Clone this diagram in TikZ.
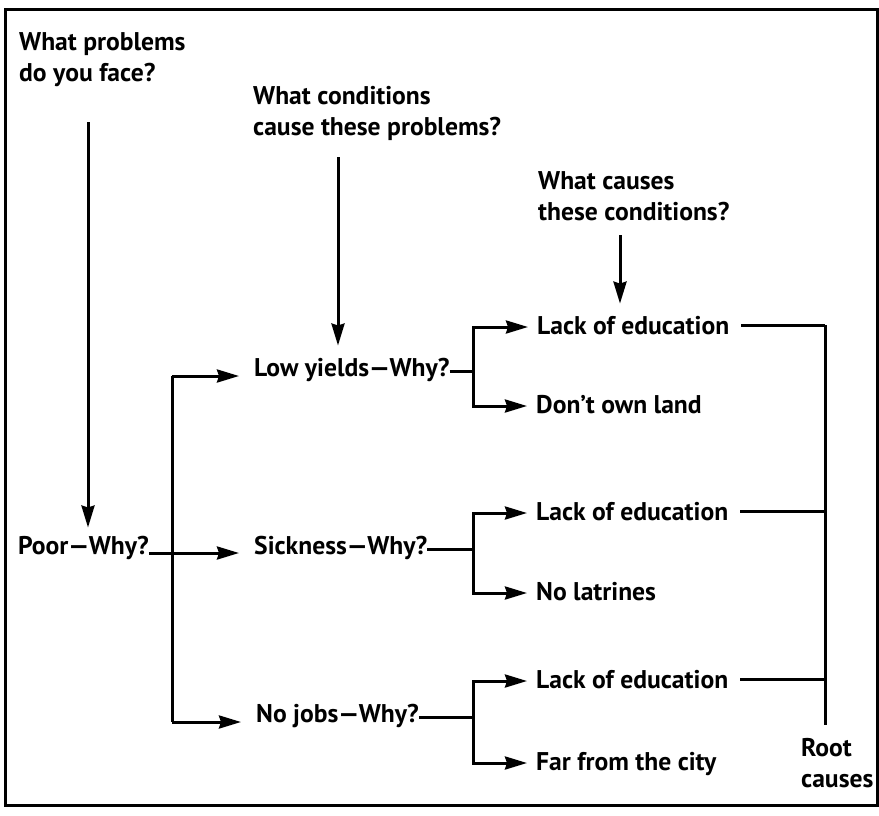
\documentclass[tikz,border=0pt]{standalone}
\usepackage{fontspec}
\setmainfont{PT Sans}
\usetikzlibrary{arrows.meta}

\tikzset{
  lbl/.style={anchor=base west, inner sep=0pt, font=\fontsize{25.6}{31}\selectfont\bfseries, align=left},
  link/.style={line width=3pt},
  arr/.style={line width=3pt, -{Stealth[length=22pt,width=13pt,inset=2pt]}},
}

\begin{document}
\begin{tikzpicture}[x=1pt, y=-1pt]
  \useasboundingbox (0,0) rectangle (879,815);
  % frame
  \draw[line width=3pt] (5,9) rectangle (877,805);

  % questions on top
  \node[lbl] (q1) at (19,81) {What problems\\do you face?};
  \node[lbl] (q2) at (253,135) {What conditions\\cause these problems?};
  \node[lbl] (q3) at (538,220) {What causes\\these conditions?};

  % problems
  \node[lbl] (poor) at (18,554) {Poor---Why?};
  \node[lbl] (low) at (254,376) {Low yields---Why?};
  \node[lbl] (sick) at (254,554) {Sickness---Why?};
  \node[lbl] (jobs) at (256,722) {No jobs---Why?};

  % conditions
  \node[lbl] (led1) at (537,334) {Lack of education};
  \node[lbl] (land) at (536,413) {Don't own land};
  \node[lbl] (led2) at (536,520) {Lack of education};
  \node[lbl] (latr) at (536,600) {No latrines};
  \node[lbl] (led3) at (536,688) {Lack of education};
  \node[lbl] (city) at (536,770) {Far from the city};
  \node[lbl] (root) at (801,787) {Root\\causes};

  % helper points
  \coordinate (c1) at (88,122);
  \coordinate (c2) at (338,157);
  \coordinate (c3) at (620,235);
  \coordinate (split) at (172,553);
  \coordinate (rtop) at (825,325);
  \coordinate (rbot) at (825,725);

  % downward arrows from the questions
  \draw[arr] (c1) -- ([yshift=8pt]c1 |- poor.north);
  \draw[arr] (c2) -- ([yshift=12pt]c2 |- low.north);
  \draw[arr] (c3) -- ([yshift=12pt]c3 |- led1.north);

  % poor -> problems
  \draw[arr, shorten >=15pt] ([yshift=1pt]poor.base east) -- ([yshift=1pt]sick.base west);
  \draw[link] (split |- low.base) -- (split |- jobs.base);
  \draw[arr, shorten >=15pt] ([yshift=0pt]split |- low.base) -- (low.base west);
  \draw[arr, shorten >=15pt] ([yshift=0pt]split |- jobs.base) -- (jobs.base west);

  % problems -> conditions
  \foreach \p/\a/\b in {low/led1/land, sick/led2/latr, jobs/led3/city} {
    \coordinate (fork) at ([yshift=5pt]473,0 |- \p.base);
    \draw[link] ([yshift=5pt]\p.base east) -- (fork);
    \draw[arr, shorten >=9pt] (fork) |- ([yshift=7pt]\a.base west);
    \draw[arr, shorten >=9pt] (fork) |- ([yshift=7pt]\b.base west);
  }

  % root causes
  \draw[link] (rtop) -- (rbot);
  \foreach \n in {led1, led2, led3}
    \draw[link] ([xshift=12pt]\n.east) -- (\n.east -| rtop);
\end{tikzpicture}
\end{document}
